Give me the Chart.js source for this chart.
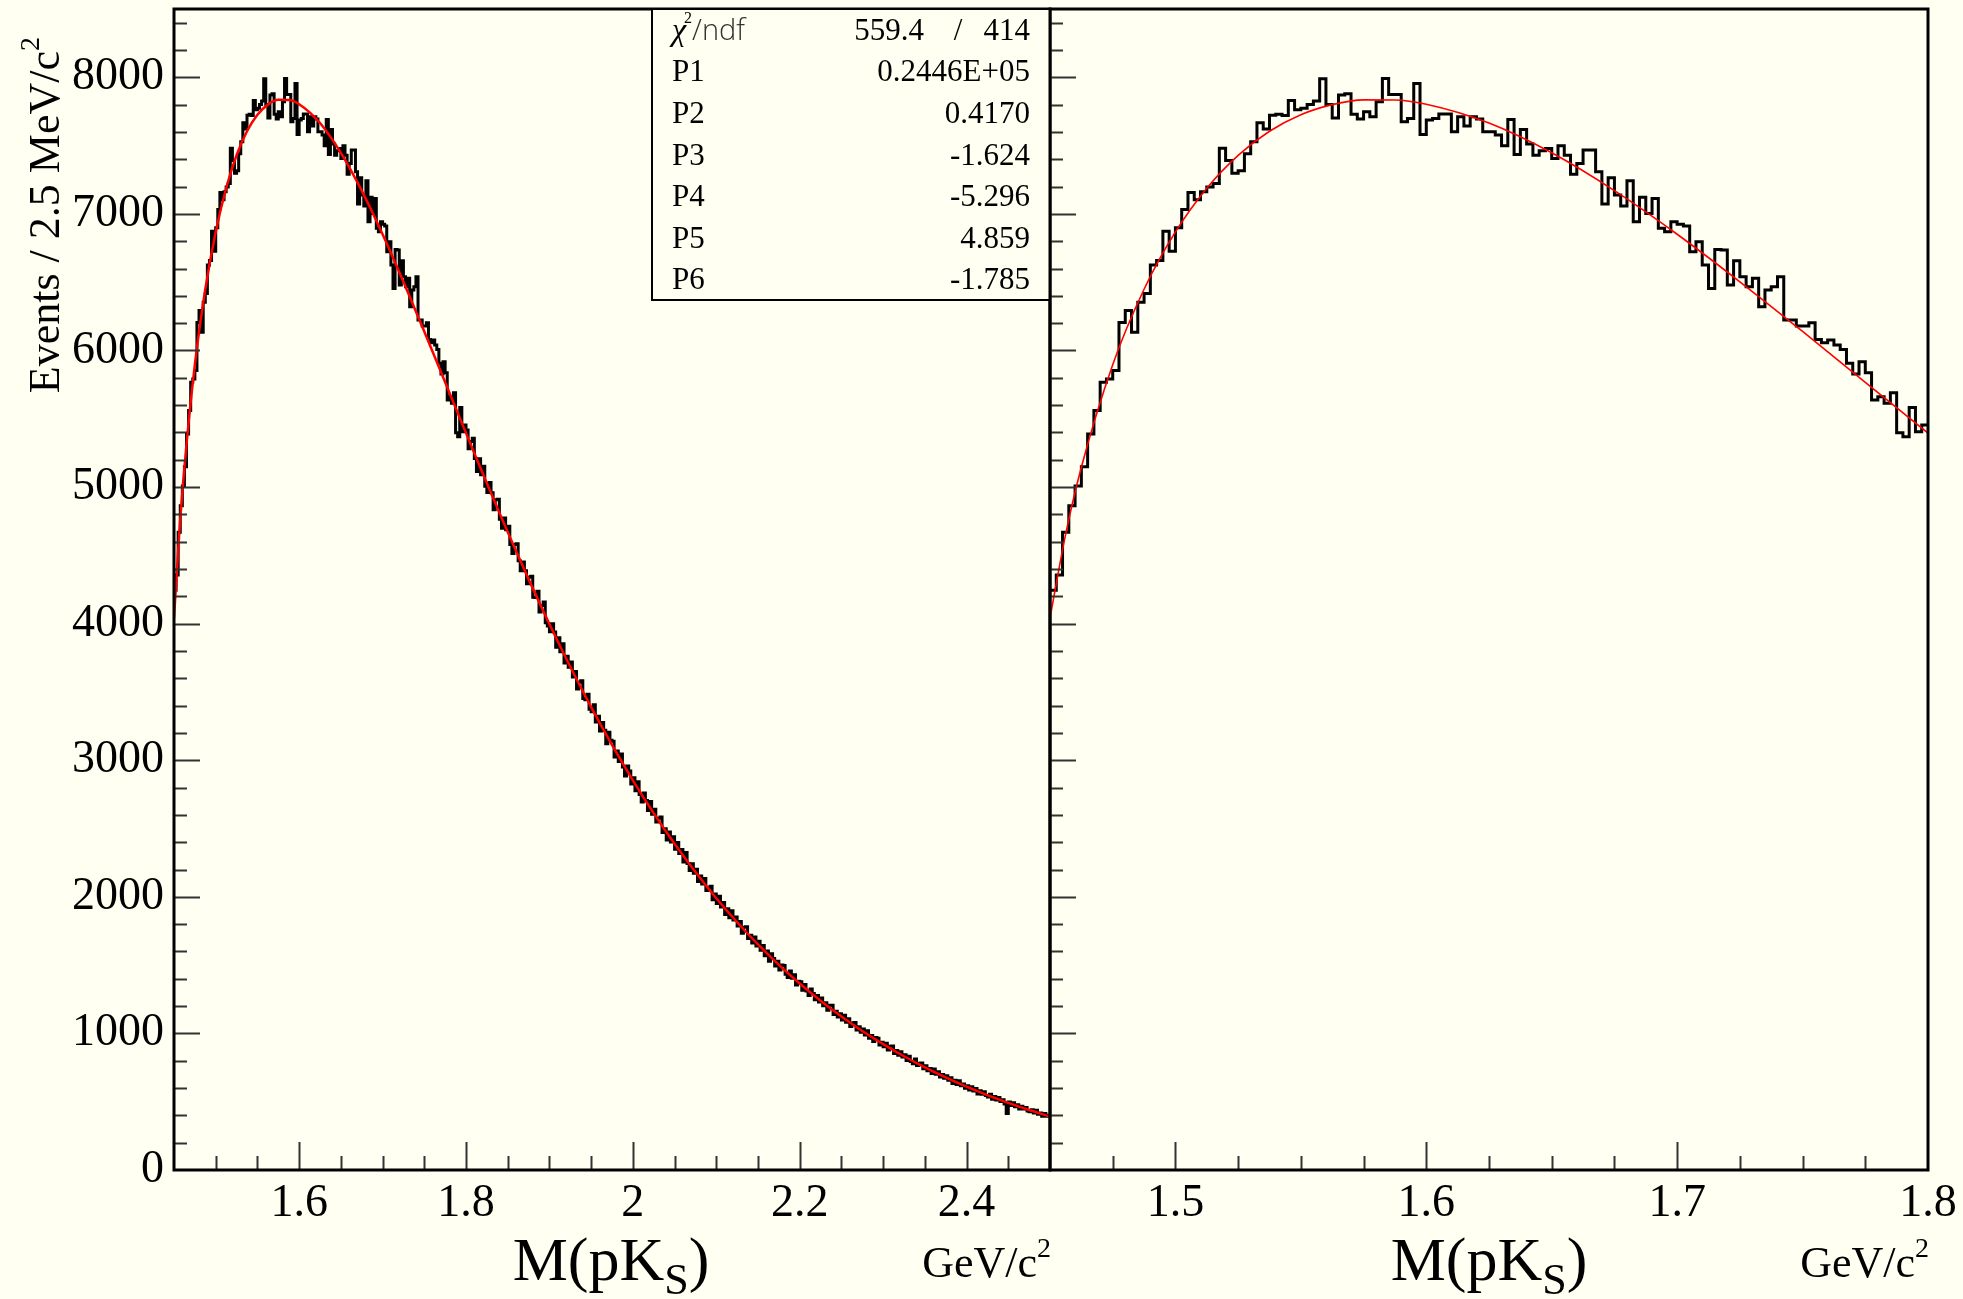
<!DOCTYPE html>
<html>
<head>
<meta charset="utf-8">
<script src="https://cdn.jsdelivr.net/npm/chart.js@4.4.0/dist/chart.umd.min.js"></script>
<style>
  html, body { margin: 0; padding: 0; background: #fffff2; }
  #wrap { position: relative; width: 1963px; height: 1299px; overflow: hidden; }
  #wrap canvas { position: absolute; left: 0; top: 0; }
</style>
</head>
<body>
<div id="wrap">
  <canvas id="chartFull" width="1963" height="1299"></canvas>
  <canvas id="chartZoom" width="1963" height="1299"></canvas>
</div>
<script>
// ---- data ----
// M(pKs) histogram, 2.5 MeV bins starting at 1.45 GeV
const binLow = 1.45;
const binWidth = 0.0025;
const counts = [
  4244, 4356, 4670, 4864, 5008, 5149, 5388, 5561, 5768, 5792,
  5853, 6204, 6292, 6133, 6353, 6417, 6625, 6659, 6872, 6726,
  6899, 7032, 7157, 7104, 7162, 7197, 7223, 7481, 7391, 7298,
  7316, 7441, 7529, 7668, 7622, 7723, 7729, 7721, 7830, 7763,
  7774, 7800, 7827, 7989, 7800, 7702, 7870, 7880, 7730, 7694,
  7748, 7711, 7821, 7992, 7874, 7874, 7674, 7699, 7955, 7582,
  7687, 7699, 7731, 7731, 7601, 7711, 7643, 7711, 7694, 7601,
  7601, 7577, 7499, 7691, 7435, 7618, 7511, 7430, 7462, 7479,
  7406, 7499, 7430, 7291, 7369, 7467, 7467, 7308, 7072, 7264,
  7138, 7057, 7243, 6942, 7121, 7003, 7113, 6894, 6869, 6942,
  6925, 6911, 6723, 6796, 6625, 6454, 6740, 6735, 6479, 6657,
  6540, 6467, 6528, 6320, 6442, 6467, 6540, 6223, 6223, 6179,
  6179, 6203, 6081, 6057, 6076, 6040, 6008, 5906, 5827, 5918,
  5837, 5637, 5661, 5613, 5691, 5398, 5369, 5583, 5405, 5454,
  5417, 5280, 5333, 5357, 5210, 5113, 5207, 5090, 5153, 5006,
  4960, 5034, 4958, 4833, 4907, 4911, 4765, 4699, 4774, 4688,
  4713, 4579, 4514, 4580, 4585, 4461, 4387, 4452, 4388, 4293,
  4340, 4347, 4194, 4191, 4238, 4085, 4132, 4159, 4006, 3983,
  3941, 4000, 3938, 3827, 3896, 3795, 3853, 3712, 3761, 3680,
  3720, 3610, 3650, 3521, 3571, 3582, 3452, 3443, 3483, 3374,
  3355, 3407, 3280, 3322, 3214, 3277, 3219, 3121, 3204, 3146,
  3139, 3023, 3067, 2991, 3045, 2950, 2884, 2958, 2922, 2826,
  2871, 2777, 2843, 2749, 2694, 2760, 2706, 2632, 2698, 2604,
  2641, 2548, 2576, 2584, 2471, 2499, 2416, 2474, 2402, 2439,
  2348, 2397, 2317, 2346, 2255, 2325, 2244, 2193, 2242, 2172,
  2202, 2112, 2153, 2094, 2135, 2046, 2067, 2078, 1979, 2020,
  1951, 2004, 1926, 1958, 1871, 1913, 1846, 1898, 1830, 1853,
  1786, 1819, 1733, 1777, 1781, 1695, 1718, 1662, 1706, 1640,
  1674, 1609, 1644, 1569, 1604, 1529, 1584, 1549, 1494, 1529,
  1465, 1501, 1498, 1434, 1410, 1457, 1403, 1429, 1355, 1382,
  1379, 1316, 1358, 1311, 1278, 1326, 1293, 1246, 1278, 1230,
  1259, 1202, 1225, 1169, 1207, 1206, 1139, 1162, 1121, 1144,
  1098, 1133, 1082, 1107, 1051, 1076, 1080, 1025, 1049, 1009,
  1033, 989, 1019, 964, 985, 940, 970, 965, 916, 936,
  902, 928, 879, 906, 907, 853, 874, 840, 866, 827,
  844, 801, 833, 795, 777, 813, 765, 782, 784, 741,
  763, 726, 743, 706, 739, 701, 719, 681, 699, 672,
  690, 658, 676, 634, 657, 626, 654, 617, 630, 598,
  617, 586, 610, 578, 597, 556, 580, 554, 572, 546,
  535, 554, 518, 538, 512, 531, 501, 515, 484, 414,
  498, 473, 493, 463, 478, 447, 467, 447, 457, 432,
  427, 442, 417, 438, 408, 418, 394, 414, 394, 400
];

// fitted curve (red)
const fitMass = [
  1.45, 1.45625, 1.4625, 1.475, 1.4875, 1.5, 1.5125, 1.525, 1.5375, 1.55,
  1.5625, 1.575, 1.5875, 1.6, 1.625, 1.65, 1.675, 1.7, 1.725, 1.75,
  1.775, 1.8, 1.825, 1.85, 1.875, 1.9, 1.925, 1.95, 1.975, 2.0,
  2.025, 2.05, 2.075, 2.1, 2.125, 2.15, 2.175, 2.2, 2.225, 2.25,
  2.275, 2.3, 2.325, 2.35, 2.375, 2.4, 2.425, 2.45, 2.475, 2.5
];
const fitValue = [
  4042, 4656, 5145, 5896, 6448, 6868, 7188, 7429, 7605, 7726,
  7800, 7835, 7834, 7803, 7665, 7447, 7170, 6851, 6503, 6139,
  5767, 5395, 5028, 4670, 4326, 3997, 3684, 3389, 3112, 2853,
  2612, 2388, 2181, 1990, 1814, 1651, 1502, 1365, 1239, 1124,
  1018, 922, 833, 752, 678, 610, 548, 491, 439, 392
];

const fullTicks = [1.6, 1.8, 2.0, 2.2, 2.4];
const zoomTicks = [1.5, 1.6, 1.7, 1.8];
const yTicks = [0, 1000, 2000, 3000, 4000, 5000, 6000, 7000, 8000];

const statLabels = ["P1", "P2", "P3", "P4", "P5", "P6"];
const statValues = ["0.2446E+05", "0.4170", "-1.624", "-5.296", "4.859", "-1.785"];
const chi2 = "559.4";
const ndf = "414";

const serif = '"Liberation Serif", "Times New Roman", serif';

// histogram outline: left bin edges + closing point
function histPoints(n) {
  const pts = [];
  for (let i = 0; i < n; i++) pts.push({ x: binLow + i * binWidth, y: counts[i] });
  pts.push({ x: binLow + n * binWidth, y: counts[n - 1] });
  return pts;
}
function fitPoints(maxMass) {
  const pts = [];
  fitMass.forEach((m, i) => {
    if (m <= maxMass + 1e-9) pts.push({ x: m, y: fitValue[i] });
  });
  return pts;
}

// ROOT-like frame with inward ticks
function rootFrame(xMinor, xMajor) {
  return {
    id: "rootFrame",
    afterDatasetsDraw(chart) {
      const { ctx, chartArea, scales } = chart;
      const { left, right, top, bottom } = chartArea;
      const x = scales.x, y = scales.y;
      ctx.save();
      ctx.strokeStyle = "#333";
      ctx.lineWidth = 2;
      ctx.beginPath();
      for (let v = 200; v < y.max; v += 200) {
        const py = Math.round(y.getPixelForValue(v)) + 0.5;
        const len = v % 1000 === 0 ? 26 : 13;
        ctx.moveTo(left, py);
        ctx.lineTo(left + len, py);
      }
      for (let k = 1; ; k++) {
        const v = Math.round((x.min + k * xMinor) * 1e6) / 1e6;
        if (v >= x.max - 1e-9) break;
        const r = v / xMajor;
        const major = Math.abs(r - Math.round(r)) < 1e-6;
        const px = Math.round(x.getPixelForValue(v)) + 0.5;
        ctx.moveTo(px, bottom);
        ctx.lineTo(px, bottom - (major ? 28 : 14));
      }
      ctx.stroke();
      ctx.strokeStyle = "#000";
      ctx.lineWidth = 3;
      ctx.strokeRect(left, top, right - left, bottom - top);
      ctx.restore();
    },
  };
}

// x title M(pK_S) and unit
function xTitle(centerX) {
  return {
    id: "xTitle",
    afterDraw(chart) {
      const { ctx, chartArea } = chart;
      ctx.save();
      ctx.fillStyle = "#000";
      ctx.textBaseline = "alphabetic";
      const big = "62px " + serif, sub = "44px " + serif;
      ctx.font = big;
      const w1 = ctx.measureText("M(pK").width;
      const w3 = ctx.measureText(")").width;
      ctx.font = sub;
      const w2 = ctx.measureText("S").width;
      let x0 = centerX - (w1 + w2 + w3) / 2;
      const base = 1280;
      ctx.font = big;
      ctx.fillText("M(pK", x0, base);
      ctx.font = sub;
      ctx.fillText("S", x0 + w1, base + 14);
      ctx.font = big;
      ctx.fillText(")", x0 + w1 + w2, base);

      // GeV/c2, right aligned at the axis end
      ctx.font = "28px " + serif;
      const ws = ctx.measureText("2").width;
      ctx.font = "44px " + serif;
      const wu = ctx.measureText("GeV/c").width;
      const xe = chartArea.right + 1;
      ctx.fillText("GeV/c", xe - ws - wu, 1277);
      ctx.font = "28px " + serif;
      ctx.fillText("2", xe - ws, 1257);
      ctx.restore();
    },
  };
}

// y title, stats box (left chart only)
const leftDecor = {
  id: "leftDecor",
  afterDraw(chart) {
    const { ctx, chartArea } = chart;
    ctx.save();
    ctx.fillStyle = "#000";
    // y title, rotated, ending at the top of the axis
    ctx.translate(59, 37);
    ctx.rotate(-Math.PI / 2);
    ctx.font = "44px " + serif;
    const wt = ctx.measureText("Events / 2.5 MeV/c").width;
    ctx.font = "28px " + serif;
    const ws = ctx.measureText("2").width;
    ctx.font = "44px " + serif;
    ctx.textBaseline = "alphabetic";
    ctx.fillText("Events / 2.5 MeV/c", -wt - ws, 0);
    ctx.font = "28px " + serif;
    ctx.fillText("2", -ws, -20);
    ctx.restore();

    // stats box
    const bx = 652, by = chartArea.top, bw = chartArea.right - 652, bh = 300 - chartArea.top;
    ctx.save();
    ctx.fillStyle = "#fffff2";
    ctx.fillRect(bx, by, bw, bh);
    ctx.strokeStyle = "#000";
    ctx.lineWidth = 2;
    ctx.strokeRect(bx, by, bw, bh);
    const rowH = bh / 7;
    const lx = 672, rx = 1030;
    ctx.textBaseline = "middle";
    ctx.fillStyle = "#000";
    // chi2 / ndf row
    let cy = by + rowH * 0.5 + 2;
    ctx.font = "italic 32px " + serif;
    ctx.textAlign = "left";
    ctx.fillText("\u03C7", lx, cy);
    const wc = ctx.measureText("\u03C7").width;
    ctx.font = "16px " + serif;
    ctx.fillText("2", lx + wc - 2, cy - 13);
    ctx.font = "300 29px 'Open Sans', 'DejaVu Sans', sans-serif";
    ctx.fillStyle = "#333";
    ctx.fillText("/ndf", lx + wc + 6, cy);
    ctx.fillStyle = "#000";
    ctx.font = "31px " + serif;
    ctx.textAlign = "right";
    ctx.fillText(chi2, 924, cy);
    ctx.textAlign = "center";
    ctx.fillText("/", 958, cy);
    ctx.textAlign = "right";
    ctx.fillText(ndf, rx, cy);
    // parameter rows
    statLabels.forEach((lab, i) => {
      const ry = by + rowH * (i + 1.5) + 2;
      ctx.textAlign = "left";
      ctx.fillText(lab, lx, ry);
      ctx.textAlign = "right";
      ctx.fillText(statValues[i], rx, ry);
    });
    ctx.restore();
  },
};

function baseOptions(pad, xMax, xTickList, showY) {
  return {
    responsive: false,
    animation: false,
    events: [],
    layout: { padding: pad, autoPadding: false },
    plugins: { legend: { display: false }, tooltip: { enabled: false } },
    scales: {
      x: {
        type: "linear",
        min: binLow,
        max: xMax,
        grid: { display: false, drawTicks: false },
        border: { display: false },
        afterBuildTicks: (s) => { s.ticks = xTickList.map((v) => ({ value: v })); },
        afterFit: (s) => {
          s.height = 129;
          s.paddingLeft = 0; s.paddingRight = 0;
        },
        ticks: {
          autoSkip: false,
          maxRotation: 0,
          padding: 6,
          color: "#000",
          font: { family: serif, size: 46 },
          callback: (v) => String(Math.round(v * 10) / 10),
        },
      },
      y: {
        display: showY,
        min: 0,
        max: 8500,
        grid: { display: false, drawTicks: false },
        border: { display: false },
        afterBuildTicks: (s) => { s.ticks = yTicks.map((v) => ({ value: v })); },
        afterFit: (s) => {
          s.width = showY ? 174 : 0;
          s.paddingTop = 0; s.paddingBottom = 0;
        },
        ticks: {
          padding: 10,
          color: "#000",
          font: { family: serif, size: 46 },
          callback: (v) => String(v),
        },
      },
    },
  };
}

function datasets(n, xMax, fitWidth) {
  return [
    {
      data: fitPoints(xMax),
      borderColor: "#ff0000",
      borderWidth: fitWidth,
      pointRadius: 0,
      fill: false,
      cubicInterpolationMode: "monotone",
      order: 0,
    },
    {
      data: histPoints(n),
      borderColor: "#000000",
      borderWidth: 3,
      pointRadius: 0,
      fill: false,
      stepped: "before",
      borderJoinStyle: "miter",
      order: 1,
    },
  ];
}

// full range 1.45 - 2.5
new Chart(document.getElementById("chartFull"), {
  type: "line",
  data: { datasets: datasets(counts.length, 2.5, 2.5) },
  options: baseOptions({ left: 0, top: 9, right: 913, bottom: 0 }, 2.5, fullTicks, true),
  plugins: [rootFrame(0.05, 0.2), xTitle(611), leftDecor],
});

// zoom 1.45 - 1.8
new Chart(document.getElementById("chartZoom"), {
  type: "line",
  data: { datasets: datasets(140, 1.8, 1.6) },
  options: baseOptions({ left: 1050, top: 9, right: 35, bottom: 0 }, 1.8, zoomTicks, false),
  plugins: [rootFrame(0.025, 0.1), xTitle(1489)],
});
</script>
</body>
</html>
